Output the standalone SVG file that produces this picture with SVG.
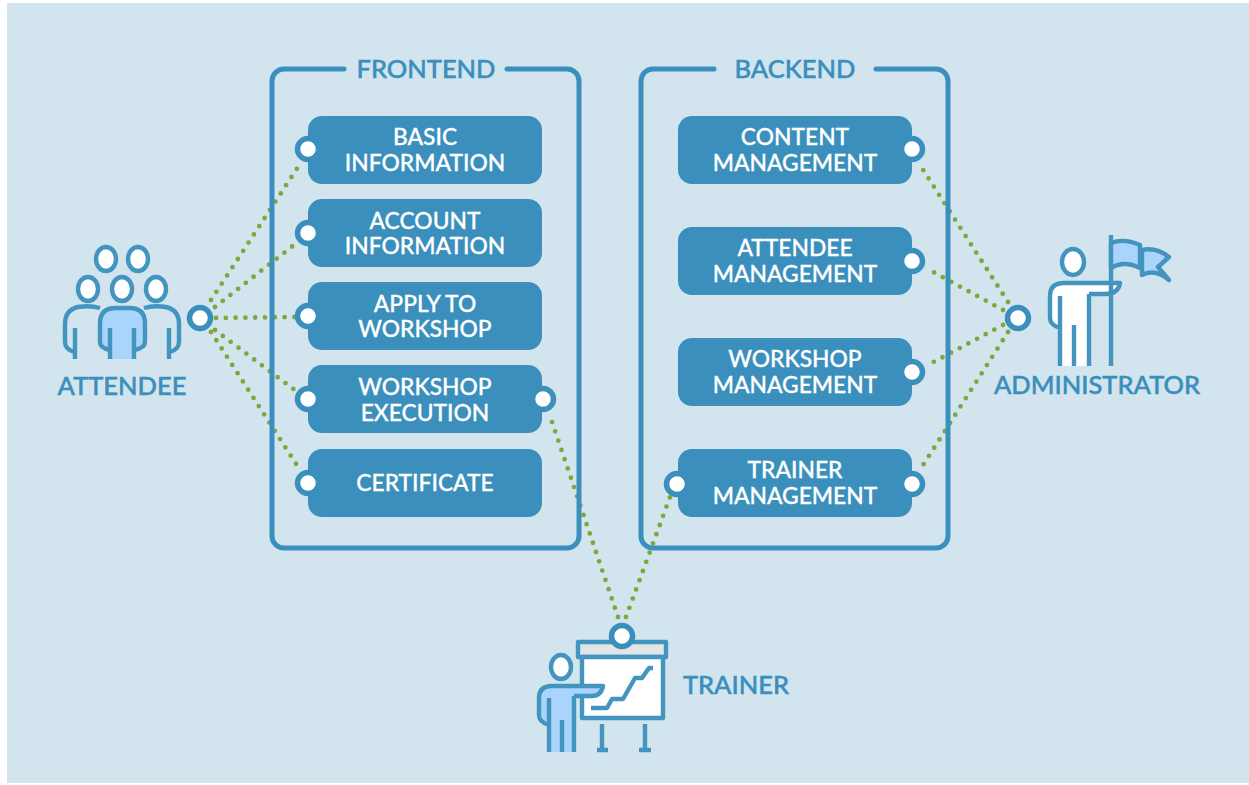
<svg xmlns="http://www.w3.org/2000/svg" width="1249" height="785" viewBox="0 0 1249 785">
<style>
text{font-family:"Lato","Liberation Sans",sans-serif;font-weight:500;text-anchor:middle}
.t{fill:#fff;stroke:#fff;stroke-width:.3;font-size:22.800px}
.l{fill:#3b8fbc;stroke:#3b8fbc;stroke-width:.5;font-size:25.5px}
.box{fill:#3b8fbc}
.frame{fill:none;stroke:#3b8fbc;stroke-width:5;stroke-linecap:round}
.port{fill:#fff;stroke:#3b8fbc;stroke-width:5.5}
.ic{stroke:#4394bf;stroke-width:4.4;fill:none;stroke-linejoin:round}
.w{fill:#fff}.b{fill:#a9d4fb}.n{stroke:none}
.dot{fill:none;stroke:#7fa63f;stroke-width:4.8;stroke-linecap:round;stroke-dasharray:0 9.8}
</style>
<rect width="1249" height="785" fill="#fff"/>
<rect x="7" y="3" width="1242" height="780" fill="#d2e5ef"/>
<g id="connectors">
<path class="dot" d="M211 300L298 167"/><path class="dot" d="M215 307L294 245"/><path class="dot" d="M216 318L296 317"/><path class="dot" d="M215 330L296 391"/><path class="dot" d="M211 332L300 470"/>
<path class="dot" d="M1008 302L920 165"/><path class="dot" d="M1003 310L926 268"/><path class="dot" d="M1003 325L926 366"/><path class="dot" d="M1008 332L920 470"/>
<path class="dot" d="M618 617L549 413"/><path class="dot" d="M626 617L670 497"/>
</g>
<g id="frontend"><path class="frame" d="M344 69H284a12 12 0 0 0-12 12V536a12 12 0 0 0 12 12H567a12 12 0 0 0 12-12V81a12 12 0 0 0-12-12H507"/><text class="l" x="426" y="78">FRONTEND</text></g>
<g id="backend"><path class="frame" d="M714 69H653a12 12 0 0 0-12 12V536a12 12 0 0 0 12 12H936a12 12 0 0 0 12-12V81a12 12 0 0 0-12-12H876"/><text class="l" x="795" y="78">BACKEND</text></g>
<g id="basic-information"><rect class="box" x="308" y="116" width="234" height="68" rx="14"/><circle class="port" cx="308" cy="149" r="10.5"/><text class="t" y="145"><tspan x="425">BASIC</tspan><tspan x="425" dy="25.5">INFORMATION</tspan></text></g>
<g id="account-information"><rect class="box" x="308" y="199" width="234" height="68" rx="14"/><circle class="port" cx="308" cy="233" r="10.5"/><text class="t" y="228.500"><tspan x="425">ACCOUNT</tspan><tspan x="425" dy="25.5">INFORMATION</tspan></text></g>
<g id="apply-to-workshop"><rect class="box" x="308" y="282" width="234" height="68" rx="14"/><circle class="port" cx="308" cy="316" r="10.5"/><text class="t" y="311.500"><tspan x="425">APPLY TO</tspan><tspan x="425" dy="25.5">WORKSHOP</tspan></text></g>
<g id="workshop-execution"><rect class="box" x="308" y="365" width="234" height="68" rx="14"/><circle class="port" cx="308" cy="399" r="10.5"/><circle class="port" cx="543" cy="399" r="10.5"/><text class="t" y="395"><tspan x="425">WORKSHOP</tspan><tspan x="425" dy="25.5">EXECUTION</tspan></text></g>
<g id="certificate"><rect class="box" x="308" y="449" width="234" height="68" rx="14"/><circle class="port" cx="308" cy="483" r="10.5"/><text class="t" x="425" y="491">CERTIFICATE</text></g>
<g id="content-management"><rect class="box" x="678" y="116" width="234" height="68" rx="14"/><circle class="port" cx="912" cy="149" r="10.5"/><text class="t" y="145"><tspan x="795">CONTENT</tspan><tspan x="795" dy="25.5">MANAGEMENT</tspan></text></g>
<g id="attendee-management"><rect class="box" x="678" y="227" width="234" height="68" rx="14"/><circle class="port" cx="912" cy="261" r="10.5"/><text class="t" y="256"><tspan x="795">ATTENDEE</tspan><tspan x="795" dy="25.5">MANAGEMENT</tspan></text></g>
<g id="workshop-management"><rect class="box" x="678" y="338" width="234" height="68" rx="14"/><circle class="port" cx="912" cy="372" r="10.5"/><text class="t" y="367"><tspan x="795">WORKSHOP</tspan><tspan x="795" dy="25.5">MANAGEMENT</tspan></text></g>
<g id="trainer-management"><rect class="box" x="678" y="449" width="234" height="68" rx="14"/><circle class="port" cx="677" cy="484" r="10.5"/><circle class="port" cx="912" cy="484" r="10.5"/><text class="t" y="478"><tspan x="795">TRAINER</tspan><tspan x="795" dy="25.5">MANAGEMENT</tspan></text></g>
<g id="attendee">
<g class="ic"><ellipse class="w" cx="106" cy="259" rx="10" ry="12"/><ellipse class="w" cx="138" cy="259" rx="10" ry="12"/><ellipse class="w" cx="88" cy="289" rx="10" ry="12"/><ellipse class="w" cx="122" cy="289" rx="10" ry="12"/><ellipse class="w" cx="156" cy="289" rx="10" ry="12"/>
<path d="M100 308Q90 305 78 307Q65 310 65 324V342Q65 349 74 352M75 328V359"/>
<path d="M144 308Q154 305 166 307Q179 310 179 324V342Q179 349 170 352M169 328V359"/>
<path class="b n" d="M110 359V350Q100 348 100 342V323Q100 308 116 308H129Q145 308 145 323V342Q145 348 134 350V359Z"/>
<path d="M110 350Q100 348 100 342V323Q100 308 116 308H129Q145 308 145 323V342Q145 348 134 350M110 328V359M134 328V359"/></g>
<text class="l" x="122" y="395">ATTENDEE</text></g>
<g id="administrator">
<g class="ic"><ellipse class="w" cx="1073" cy="262" rx="11" ry="13"/>
<path class="w n" d="M1060 366V328Q1050 325 1050 318V296Q1050 283 1064 283H1120Q1118 294 1106 294H1089V366Z"/>
<path d="M1060 328Q1050 325 1050 318V296Q1050 283 1064 283H1120Q1118 294 1106 294H1089M1060 296V366M1074 325V366M1089 294V366"/>
<path d="M1111 235V366"/>
<path class="b" d="M1111 243Q1124 238 1140 245V268Q1124 260 1111 268Z"/>
<path class="b" d="M1142 250Q1156 247 1169 257L1158 267L1169 280Q1155 268 1142 275Z"/></g>
<text class="l" x="1097" y="394">ADMINISTRATOR</text></g>
<g id="trainer">
<g class="ic"><rect x="578" y="642" width="88" height="15" fill="#e2e5e7"/>
<rect class="w" x="582" y="657" width="81" height="61"/>
<path d="M591 708H607L612 699H623L635 678H642L649 668H653"/>
<path d="M602 724V750M645 724V750M597 750H608M639 750H651"/>
<ellipse class="w" cx="561" cy="667" rx="10" ry="12"/>
<path class="b n" d="M549 752V725Q539 722 539 715V698Q539 686 552 686H603Q601 696 592 696H574V752Z"/>
<path d="M549 725Q539 722 539 715V698Q539 686 552 686H603Q601 696 592 696H574M549 698V752M562 720V752M574 696V752"/></g>
<circle class="port" cx="622" cy="636" r="10.5"/>
<text class="l" x="736" y="694">TRAINER</text></g>
<circle class="port" cx="200" cy="318" r="10.5"/>
<circle class="port" cx="1018" cy="318" r="10.5"/>
</svg>
